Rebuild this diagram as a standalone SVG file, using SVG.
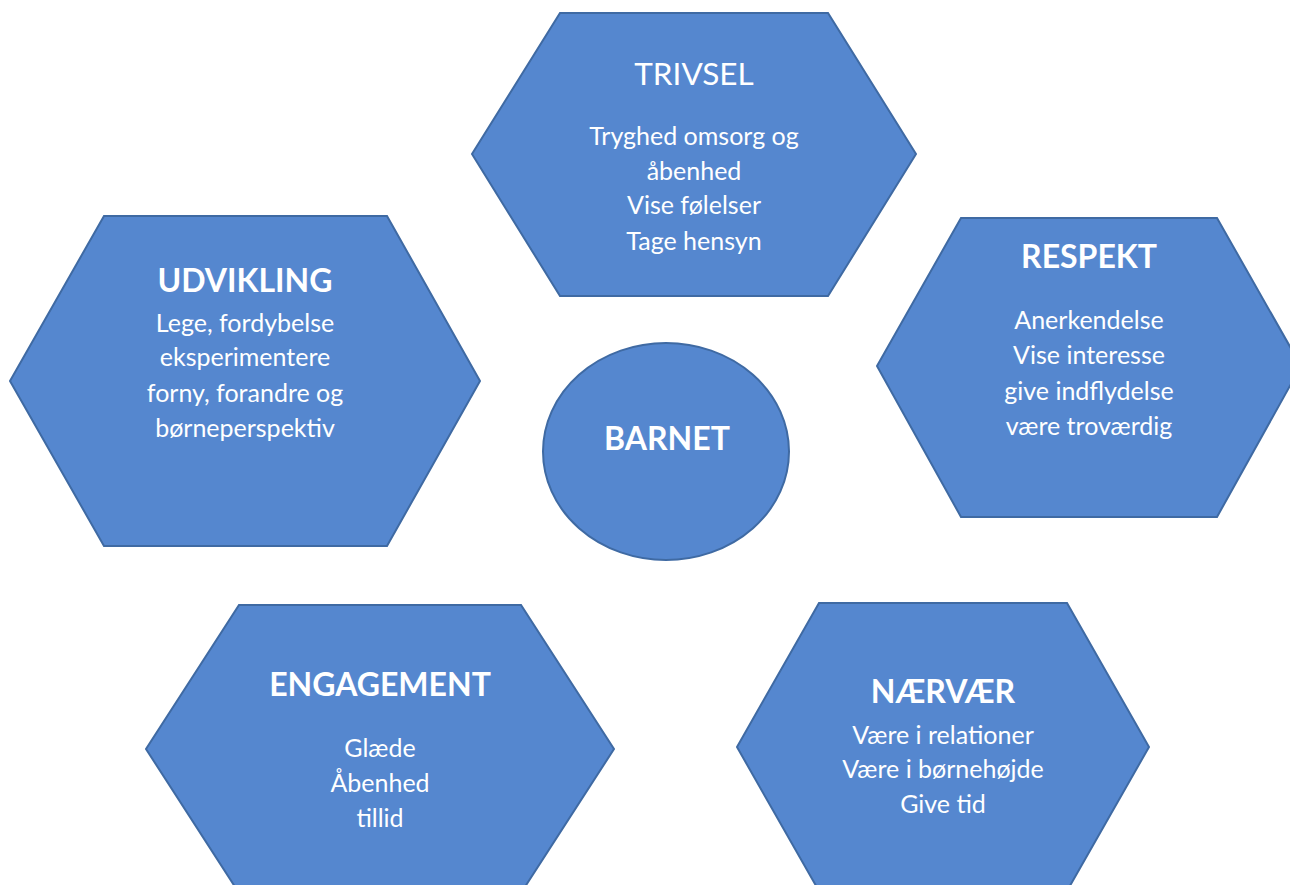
<svg xmlns="http://www.w3.org/2000/svg" width="1290" height="885" viewBox="0 0 1290 885">
<style>
.shape{fill:#5587CF;stroke:#3F6AA3;stroke-width:2}
text{fill:#FFFFFF;font-family:Lato,"Open Sans","Liberation Sans",sans-serif;text-anchor:middle}
.t{font-size:32px;font-weight:bold}
.tr{font-size:31.5px;font-weight:normal}
.b{font-size:25px}
</style>
<rect width="1290" height="885" fill="#FFFFFF"/>
<g id="connectors"></g>
<g id="trivsel">
<polygon class="shape" points="560,13 828,13 916,154 828,296 560,296 472,154"/>
<text class="tr" x="694" y="85">TRIVSEL</text>
<text class="b" x="694" y="145">Tryghed omsorg og</text>
<text class="b" x="694" y="180">åbenhed</text>
<text class="b" x="694" y="214">Vise følelser</text>
<text class="b" x="694" y="250">Tage hensyn</text>
</g>
<g id="udvikling">
<polygon class="shape" points="104,216 387,216 480,381 387,546 104,546 10,381"/>
<text class="t" x="245" y="292">UDVIKLING</text>
<text class="b" x="245" y="332">Lege, fordybelse</text>
<text class="b" x="245" y="366">eksperimentere</text>
<text class="b" x="245" y="402">forny, forandre og</text>
<text class="b" x="245" y="437">børneperspektiv</text>
</g>
<g id="respekt">
<polygon class="shape" points="961,218 1217,218 1301,366 1217,517 961,517 877,366"/>
<text class="t" x="1089" y="268">RESPEKT</text>
<text class="b" x="1089" y="329">Anerkendelse</text>
<text class="b" x="1089" y="364">Vise interesse</text>
<text class="b" x="1089" y="400">give indflydelse</text>
<text class="b" x="1089" y="435">være troværdig</text>
</g>
<g id="barnet">
<ellipse class="shape" cx="666" cy="451.5" rx="123" ry="108.5"/>
<text class="t" x="667" y="450">BARNET</text>
</g>
<g id="engagement">
<polygon class="shape" points="239,605 521,605 614,749 521,893 239,893 146,749"/>
<text class="t" x="380" y="696">ENGAGEMENT</text>
<text class="b" x="380" y="757">Glæde</text>
<text class="b" x="380" y="792">Åbenhed</text>
<text class="b" x="380" y="827">tillid</text>
</g>
<g id="naervaer">
<polygon class="shape" points="819,603 1067,603 1149,747 1067,891 819,891 737,747"/>
<text class="t" x="943" y="703">NÆRVÆR</text>
<text class="b" x="943" y="744">Være i relationer</text>
<text class="b" x="943" y="778">Være i børnehøjde</text>
<text class="b" x="943" y="813">Give tid</text>
</g>
</svg>
